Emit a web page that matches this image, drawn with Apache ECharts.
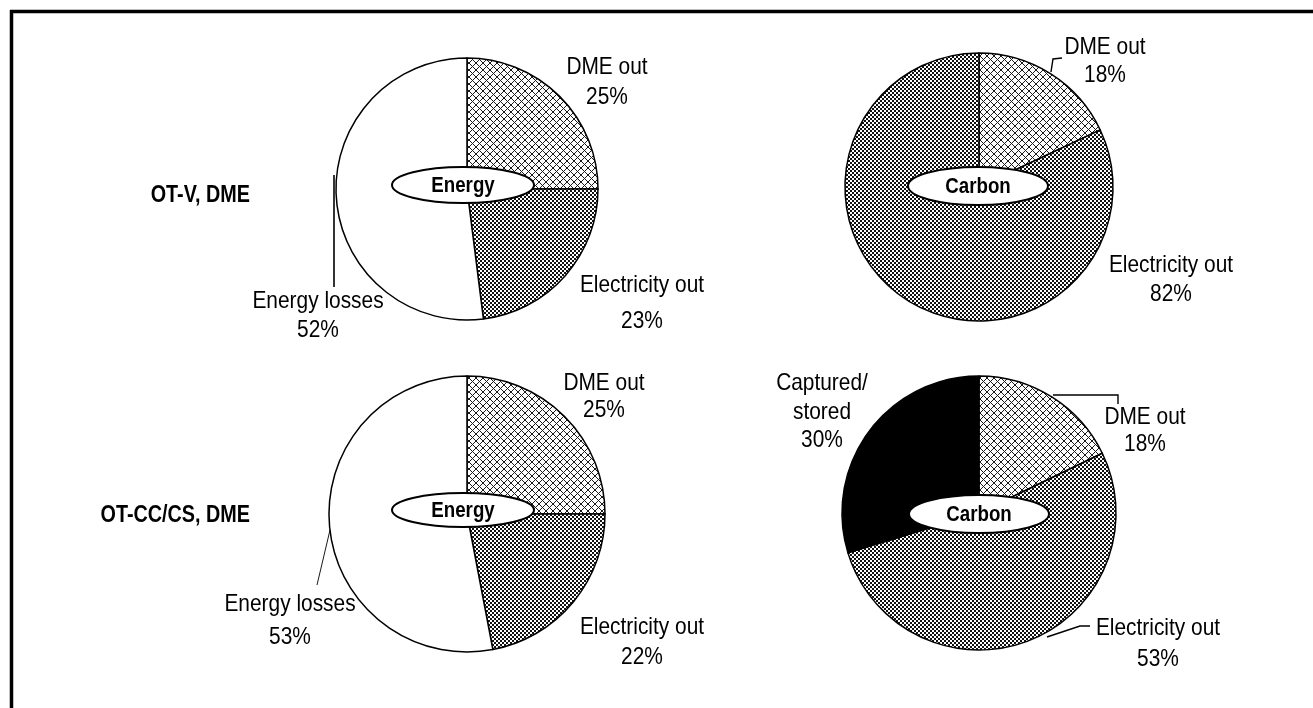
<!DOCTYPE html>
<html>
<head>
<meta charset="utf-8">
<title>Energy and carbon balances, OT-V and OT-CC/CS DME</title>
<script src="https://cdn.jsdelivr.net/npm/echarts@6/dist/echarts.min.js"></script>
<style>
  html, body { margin: 0; padding: 0; background: #fff; }
  #chart { width: 1313px; height: 708px; }
</style>
</head>
<body>
<div id="chart"></div>
<script>
// ---- data ----
const rowTitles = ['OT-V, DME', 'OT-CC/CS, DME'];
const centerTags = ['Energy', 'Carbon', 'Energy', 'Carbon'];

const energyNames = ['DME out', 'Electricity out', 'Energy losses'];
const energyOTV = [25, 23, 52];
const energyOTCC = [25, 22, 53];

const carbonNamesOTV = ['DME out', 'Electricity out'];
const carbonOTV = [18, 82];

const carbonNamesOTCC = ['DME out', 'Electricity out', 'Captured/stored'];
const carbonOTCC = [18, 53, 30];

// ---- fills ----
function crossHatch() {
  const s = 7, c = document.createElement('canvas');
  c.width = s; c.height = s;
  const g = c.getContext('2d');
  g.fillStyle = '#fff'; g.fillRect(0, 0, s, s);
  g.strokeStyle = '#1a1a1a'; g.lineWidth = 1;
  g.beginPath();
  g.moveTo(0, 0); g.lineTo(s, s);
  g.moveTo(s, 0); g.lineTo(0, s);
  g.stroke();
  return { image: c, repeat: 'repeat' };
}
function fineDots() {
  const c = document.createElement('canvas');
  c.width = 4; c.height = 4;
  const g = c.getContext('2d');
  g.fillStyle = '#fff'; g.fillRect(0, 0, 4, 4);
  g.fillStyle = '#111';
  g.fillRect(0, 0, 2, 2);
  g.fillRect(2, 2, 2, 2);
  return { image: c, repeat: 'repeat' };
}
const FILL = {
  'DME out': crossHatch(),
  'Electricity out': fineDots(),
  'Energy losses': '#ffffff',
  'Captured/stored': '#000000'
};

// ---- layout ----
const FONT = '"Liberation Sans", Arial, sans-serif';
const NARROW = 0.87;   // horizontal squeeze giving a condensed face
const PIES = [
  { center: [467, 189], r: 131 },
  { center: [979, 187], r: 134 },
  { center: [467, 514], r: 138 },
  { center: [979, 513], r: 137 }
];
// label block centre [x, y] and line height, per slice
const LABELS = [
  [[607, 82, 30], [642, 303, 36], [318, 316, 29]],
  [[1105, 61, 28], [1171, 280, 29]],
  [[604, 397, 27], [642, 642, 30], [290, 621, 33]],
  [[1145, 431, 27], [1158, 644, 31], [822, 412, 28.5]]
];
const TAGS = [
  { c: [463, 185], rx: 71, ry: 18 },
  { c: [978, 186], rx: 70, ry: 19 },
  { c: [463, 510], rx: 71, ry: 17 },
  { c: [979, 514], rx: 70, ry: 19 }
];
const LEADERS = [
  { pts: [[334, 175], [334, 287]], w: 1.6 },
  { pts: [[1051, 72], [1053, 59], [1062, 58]], w: 1.4 },
  { pts: [[330, 530], [317, 585]], w: 0.9 },
  { pts: [[1053, 395], [1118, 395], [1118, 404]], w: 1.4 },
  { pts: [[1047, 637], [1080, 626], [1090, 626]], w: 1.4 }
];

function pieSeries(idx, names, values) {
  return {
    type: 'pie',
    center: PIES[idx].center,
    radius: PIES[idx].r,
    startAngle: 90,
    clockwise: true,
    silent: true,
    animation: false,
    itemStyle: { borderColor: '#000', borderWidth: 1.5 },
    label: { show: false },
    labelLine: { show: false },
    data: names.map((n, i) => ({
      name: n,
      value: values[i],
      itemStyle: { color: FILL[n] }
    }))
  };
}

const graphics = [];
// frame
graphics.push({ type: 'line', shape: { x1: 10, y1: 11.5, x2: 1313, y2: 11.5 }, style: { stroke: '#000', lineWidth: 3.5 }, silent: true });
graphics.push({ type: 'line', shape: { x1: 11.5, y1: 10, x2: 11.5, y2: 708 }, style: { stroke: '#000', lineWidth: 3.5 }, silent: true });
// row titles
rowTitles.forEach((t, i) => {
  graphics.push({
    type: 'text', x: 250, y: i === 0 ? 196 : 516, scaleX: 0.86, silent: true,
    style: { text: t, fill: '#000', font: 'bold 23px ' + FONT, textAlign: 'right', textVerticalAlign: 'middle' }
  });
});
// slice labels: name and share, one block per slice
function sliceLabels(idx, names, values) {
  names.forEach((n, i) => {
    const L = LABELS[idx][i];
    graphics.push({
      type: 'text', x: L[0], y: L[1], scaleX: NARROW, z: 60, silent: true,
      style: {
        text: n.replace('/', '/\n') + '\n' + values[i] + '%',
        fill: '#000', font: '24px ' + FONT, lineHeight: L[2],
        textAlign: 'center', textVerticalAlign: 'middle'
      }
    });
  });
}
sliceLabels(0, energyNames, energyOTV);
sliceLabels(1, carbonNamesOTV, carbonOTV);
sliceLabels(2, energyNames, energyOTCC);
sliceLabels(3, carbonNamesOTCC, carbonOTCC);
// centre tags
TAGS.forEach((t, i) => {
  graphics.push({
    type: 'ellipse', z: 100, silent: true,
    shape: { cx: t.c[0], cy: t.c[1], rx: t.rx, ry: t.ry },
    style: { fill: '#fff', stroke: '#000', lineWidth: 2 }
  });
  graphics.push({
    type: 'text', z: 101, x: t.c[0], y: t.c[1] + 1, scaleX: 0.85, silent: true,
    style: { text: centerTags[i], fill: '#000', font: 'bold 22px ' + FONT, textAlign: 'center', textVerticalAlign: 'middle' }
  });
});
// leader lines
LEADERS.forEach(l => {
  graphics.push({
    type: 'polyline', z: 50, silent: true,
    shape: { points: l.pts },
    style: { stroke: '#000', lineWidth: l.w, fill: null }
  });
});

const chart = echarts.init(document.getElementById('chart'), null, { renderer: 'canvas' });
chart.setOption({
  backgroundColor: '#fff',
  animation: false,
  series: [
    pieSeries(0, energyNames, energyOTV),
    pieSeries(1, carbonNamesOTV, carbonOTV),
    pieSeries(2, energyNames, energyOTCC),
    pieSeries(3, carbonNamesOTCC, carbonOTCC)
  ],
  graphic: graphics
});
</script>
</body>
</html>
